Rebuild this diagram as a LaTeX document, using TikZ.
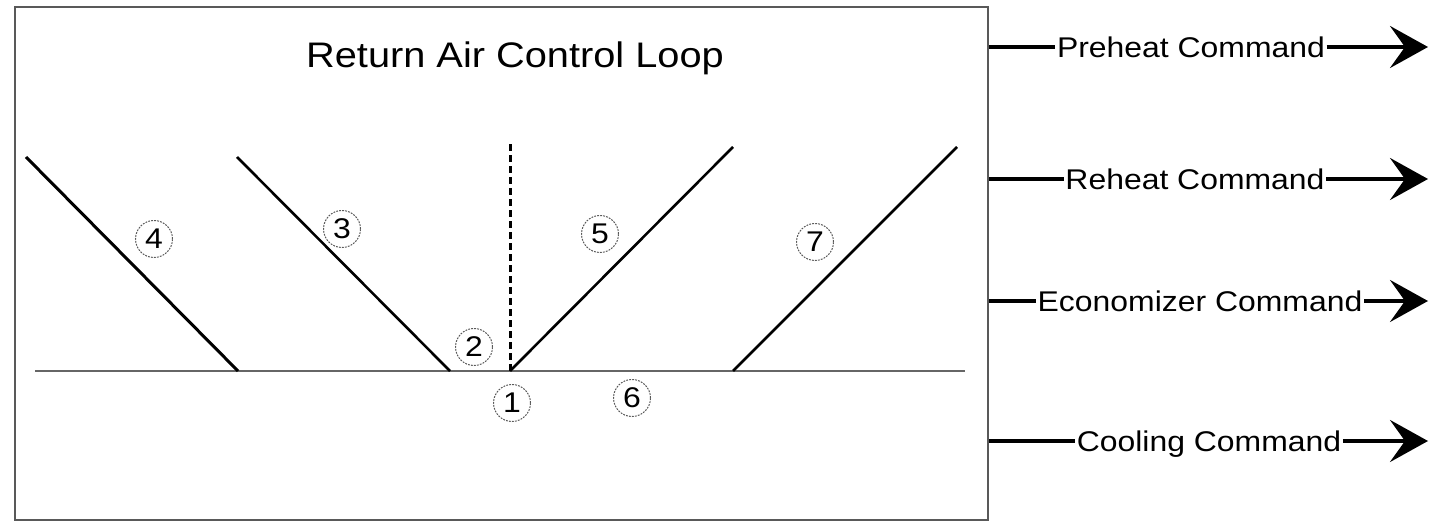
\documentclass[tikz,border=0pt]{standalone}
\usepackage{fontspec}
\setmainfont{Liberation Sans}[FakeStretch=1.12]
\usetikzlibrary{arrows.meta}

\begin{document}
\begin{tikzpicture}[x=1pt,y=-1pt,
		num/.style={circle, draw=gray!70!black, dash pattern=on 1.8pt off 1.2pt, line width=1pt, minimum size=37pt, inner sep=0pt, font=\fontsize{28.5}{30}\selectfont},
		cmd/.style={fill=white, inner sep=1.5pt, text depth=0pt, font=\fontsize{28.5}{30}\selectfont},
		ramp/.style={line width=2.6pt},
		cmdarrow/.style={line width=4pt, -{Stealth[length=38pt, width=42pt, inset=15pt]}}]
				\useasboundingbox (0,0) rectangle (1430,521);
				% frame
				\draw[gray!70!black, line width=2pt] (15,7) rectangle (988,520);
				\node[text depth=0pt, font=\fontsize{35.5}{40}\selectfont] (title) at (515,55) {Return Air Control Loop};
				% axis and ramps
				\coordinate (axL) at (35,371);
				\coordinate (axR) at (965,371);
				\coordinate (zero) at (510,371);
				\draw[gray!80!black, line width=1.5pt] (axL) -- (axR);
				\draw[line width=3pt, dash pattern=on 7pt off 4pt] (zero) -- (510,143);
				\draw[ramp, line width=3pt] (26,157) -- (238,371);
				\draw[ramp] (237,157) -- (450,371);
				\draw[ramp] (zero) -- (733,147);
				\draw[ramp] (733,371) -- (957,147);
				% numbered markers
				\foreach \n/\px/\py in {1/512/403, 2/474/347, 3/342/229, 4/154/239, 5/600/234, 6/632/398, 7/815/242} {
					\node[num] (m\n) at (\px,\py) {\n};
				}
				% output commands
				\foreach \name/\y/\tx/\lab in {pre/47/1191/Preheat Command, re/179/1195/Reheat Command, eco/301/1200/Economizer Command, cool/441/1209/Cooling Command} {
					\coordinate (\name-s) at (989,\y);
					\coordinate (\name-e) at (1428,\y);
					\node[cmd] (\name) at (\tx,\y) {\lab};
					\draw[line width=4pt] (\name-s) -- (\name);
					\draw[cmdarrow] (\name) -- (\name-e);
				}
			\end{tikzpicture}
\end{document}
